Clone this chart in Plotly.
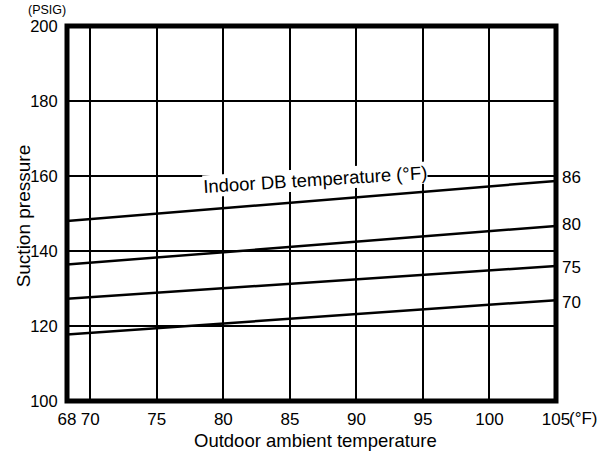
import plotly.graph_objects as go

# Data
outdoor = [68, 105]
indoor_labels = ["86", "80", "75", "70"]
suction = {
    "86": [147.9, 158.7],
    "80": [136.3, 146.7],
    "75": [127.2, 136.0],
    "70": [117.7, 126.9],
}
label_y = {"86": 159.7, "80": 147.2, "75": 135.7, "70": 126.4}

x_tickvals = [68.25, 70, 75, 80, 85, 90, 95, 100, 105]
x_ticktext = ["68", "70", "75", "80", "85", "90", "95", "100", "105"]
y_tickvals = [100, 120, 140, 160, 180, 200]

FONT = "Liberation Sans, Arial, sans-serif"

fig = go.Figure()
for k in indoor_labels:
    fig.add_trace(go.Scatter(x=outdoor, y=suction[k], mode="lines",
                             line=dict(color="black", width=2.5),
                             showlegend=False, hoverinfo="skip"))

annotations = []
for k in indoor_labels:
    annotations.append(dict(x=1, xref="paper", y=label_y[k], yref="y",
                            text=k, showarrow=False, xanchor="left",
                            xshift=4, font=dict(size=17, color="black", family=FONT)))
annotations.append(dict(x=86.9, y=159.2, xref="x", yref="y",
                        text="Indoor DB temperature (°F)", showarrow=False,
                        textangle=-3.6, bgcolor="white", borderpad=0,
                        font=dict(size=18.5, color="black", family=FONT)))
annotations.append(dict(x=1, xref="paper", y=0, yref="paper", text="(°F)",
                        showarrow=False, xanchor="left", yanchor="middle",
                        xshift=11, yshift=-17,
                        font=dict(size=17, color="black", family=FONT)))
annotations.append(dict(x=-0.04, xref="paper", y=1, yref="paper", text="(PSIG)",
                        showarrow=False, xanchor="center", yanchor="bottom",
                        yshift=7, font=dict(size=12.5, color="black", family=FONT)))
annotations.append(dict(x=-0.09, xref="paper", y=0.495, yref="paper",
                        text="Suction pressure", showarrow=False, textangle=-90,
                        xanchor="center", yanchor="middle",
                        font=dict(size=19, color="black", family=FONT)))
annotations.append(dict(x=0.5, xref="paper", y=0, yref="paper",
                        text="Outdoor ambient temperature", showarrow=False,
                        xanchor="center", yanchor="top", yshift=-27, xshift=4,
                        font=dict(size=18.5, color="black", family=FONT)))

fig.update_layout(
    width=606, height=453,
    margin=dict(l=67, r=50, t=26, b=52),
    plot_bgcolor="white", paper_bgcolor="white",
    font=dict(family=FONT, size=17, color="black"),
    annotations=annotations,
    shapes=[dict(type="rect", xref="paper", yref="paper", x0=0, y0=0, x1=1, y1=1,
                 line=dict(color="black", width=5), layer="above")],
    xaxis=dict(range=[68.25, 105], tickvals=x_tickvals, ticktext=x_ticktext,
               showgrid=True, gridcolor="black", gridwidth=2, zeroline=False,
               ticks="outside", ticklen=3, tickcolor="rgba(0,0,0,0)",
               showline=False, tickfont=dict(size=17)),
    yaxis=dict(range=[100, 200], tickvals=y_tickvals,
               showgrid=True, gridcolor="black", gridwidth=2, zeroline=False,
               ticks="outside", ticklen=5, tickcolor="rgba(0,0,0,0)",
               showline=False, tickfont=dict(size=16.5)),
)

fig.write_html("out.html")
